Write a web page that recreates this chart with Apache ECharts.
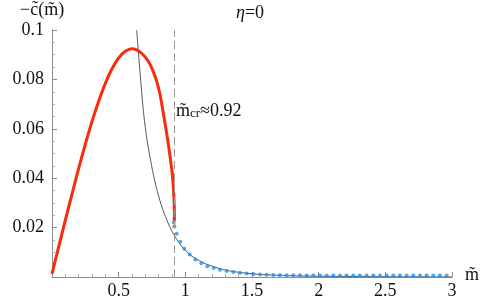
<!DOCTYPE html>
<html><head><meta charset="utf-8">
<script src="https://cdn.jsdelivr.net/npm/echarts@6/dist/echarts.min.js"></script>
<style>html,body{margin:0;padding:0;background:#fff}#c{width:491px;height:303px}</style>
</head><body><div id="c"></div>
<script>
// Red curve (m, -c)
const redCurve = [[0,0.0013],[0.05,0.0122],[0.1,0.0230],[0.15,0.0336],[0.2,0.0440],[0.25,0.0538],[0.3,0.0630],[0.35,0.0712],[0.4,0.0784],[0.45,0.0843],[0.5,0.0887],[0.55,0.0914],[0.6,0.0924],[0.65,0.0915],[0.7,0.0890],[0.74,0.0856],[0.78,0.0801],[0.81,0.0740],[0.835,0.0663],[0.855,0.0598],[0.8725,0.0538],[0.888,0.0478],[0.9,0.0428],[0.909,0.0373],[0.914,0.0328],[0.917,0.0283],[0.918,0.0253],[0.918,0.0228]];
// Thin gray curve
const grayCurve = [[0.635,0.1],[0.66,0.0830],[0.685,0.0674],[0.71,0.0565],[0.735,0.0485],[0.76,0.0415],[0.785,0.0357],[0.81,0.0308],[0.85,0.0245],[0.9,0.0185],[0.95,0.0141],[1.0,0.0108],[1.06,0.0080],[1.15,0.0054],[1.25,0.0035],[1.31,0.0027],[1.4,0.0019],[1.5,0.0013],[1.6,0.0009],[1.8,0.0005],[2.0,0.0003],[2.5,0.0001],[3.0,0.0]];
// Blue dots
const blueDots = [[0.913,0.0222],[0.918,0.0205],[0.935,0.0175],[0.962,0.0143],[0.992,0.0114],[1.033,0.0091],[1.075,0.0071],[1.12,0.0056],[1.165,0.0044],[1.213,0.0036],[1.26,0.0029],[1.31,0.0024],[1.36,0.0020],[1.41,0.0017],[1.46,0.0014],[1.51,0.0012],[1.56,0.0010],[1.61,0.0009],[1.66,0.0008],[1.71,0.0008],[1.76,0.0007],[1.81,0.0007],[1.86,0.0007],[1.91,0.0006],[1.96,0.0006],[2.01,0.0006],[2.06,0.0006],[2.11,0.0006],[2.16,0.0006],[2.21,0.0006],[2.26,0.0006],[2.31,0.0006],[2.36,0.0006],[2.41,0.0006],[2.46,0.0006],[2.51,0.0006],[2.56,0.0006],[2.61,0.0006],[2.66,0.0006],[2.71,0.0006],[2.76,0.0006],[2.81,0.0006],[2.86,0.0006],[2.91,0.0006],[2.96,0.0006]];
const criticalM = 0.92;
const xTicks = [0.5,1,1.5,2,2.5,3];
const yTicks = [0.02,0.04,0.06,0.08,0.1];

const chart = echarts.init(document.getElementById('c'), null, {renderer:'canvas'});
const fam = 'Liberation Serif';
const fs = 18;
const axisGray = '#8c8c8c';
chart.setOption({
  animation:false,
  textStyle:{fontFamily:fam},
  grid:{left:52,right:39,top:30,bottom:26},
  xAxis:{type:'value',min:0,max:3,interval:0.5,
    axisLine:{lineStyle:{color:axisGray,width:1}},
    axisTick:{inside:true,length:5,lineStyle:{color:axisGray}},
    minorTick:{show:true,splitNumber:5,length:3,lineStyle:{color:'#b0b0b0'}},
    splitLine:{show:false},
    axisLabel:{fontFamily:fam,fontSize:fs,color:'#111',margin:5,
      formatter:v=>xTicks.includes(+v.toFixed(2))?String(+v.toFixed(2)):''}},
  yAxis:{type:'value',min:0,max:0.1,interval:0.02,
    axisLine:{show:true,lineStyle:{color:axisGray,width:1}},
    axisTick:{show:true,inside:true,length:5,lineStyle:{color:axisGray}},
    minorTick:{show:true,splitNumber:4,length:3,lineStyle:{color:'#b0b0b0'}},
    splitLine:{show:false},
    axisLabel:{fontFamily:fam,fontSize:fs,color:'#111',margin:8,
      formatter:v=>yTicks.includes(+v.toFixed(3))?String(+v.toFixed(3)):''}},
  series:[
    {type:'line',data:grayCurve,showSymbol:false,smooth:0.25,z:2,
      lineStyle:{color:'#555',width:1},
      markLine:{silent:true,symbol:'none',label:{show:false},
        lineStyle:{color:'#999',type:[8,4],width:1},
        data:[{xAxis:criticalM}]}},
    {type:'scatter',data:blueDots,symbolSize:4,z:3,itemStyle:{color:'#1f8ef5'}},
    {type:'line',data:redCurve,showSymbol:false,smooth:0.2,z:4,
      lineStyle:{color:'#fa2a0a',width:3}}
  ],
  graphic:[
    {type:'text',left:20,top:1,style:{text:'−c\u0303(m\u0303)',fontFamily:fam,fontSize:fs,fill:'#111'}},
    {type:'text',left:236,top:4,style:{text:'{i|η}=0',fontFamily:fam,fontSize:fs,fill:'#111',
      rich:{i:{fontStyle:'italic',fontFamily:fam,fontSize:fs}}}},
    {type:'text',left:176,top:102,style:{text:'m\u0303{s|cr}≈0.92',fontFamily:fam,fontSize:fs,fill:'#111',
      rich:{s:{fontFamily:fam,fontSize:13,verticalAlign:'bottom',padding:[6,0,0,0]}}}},
    {type:'text',left:465,top:266,style:{text:'m\u0303',fontFamily:fam,fontSize:fs,fill:'#111'}}
  ]
});
</script></body></html>
